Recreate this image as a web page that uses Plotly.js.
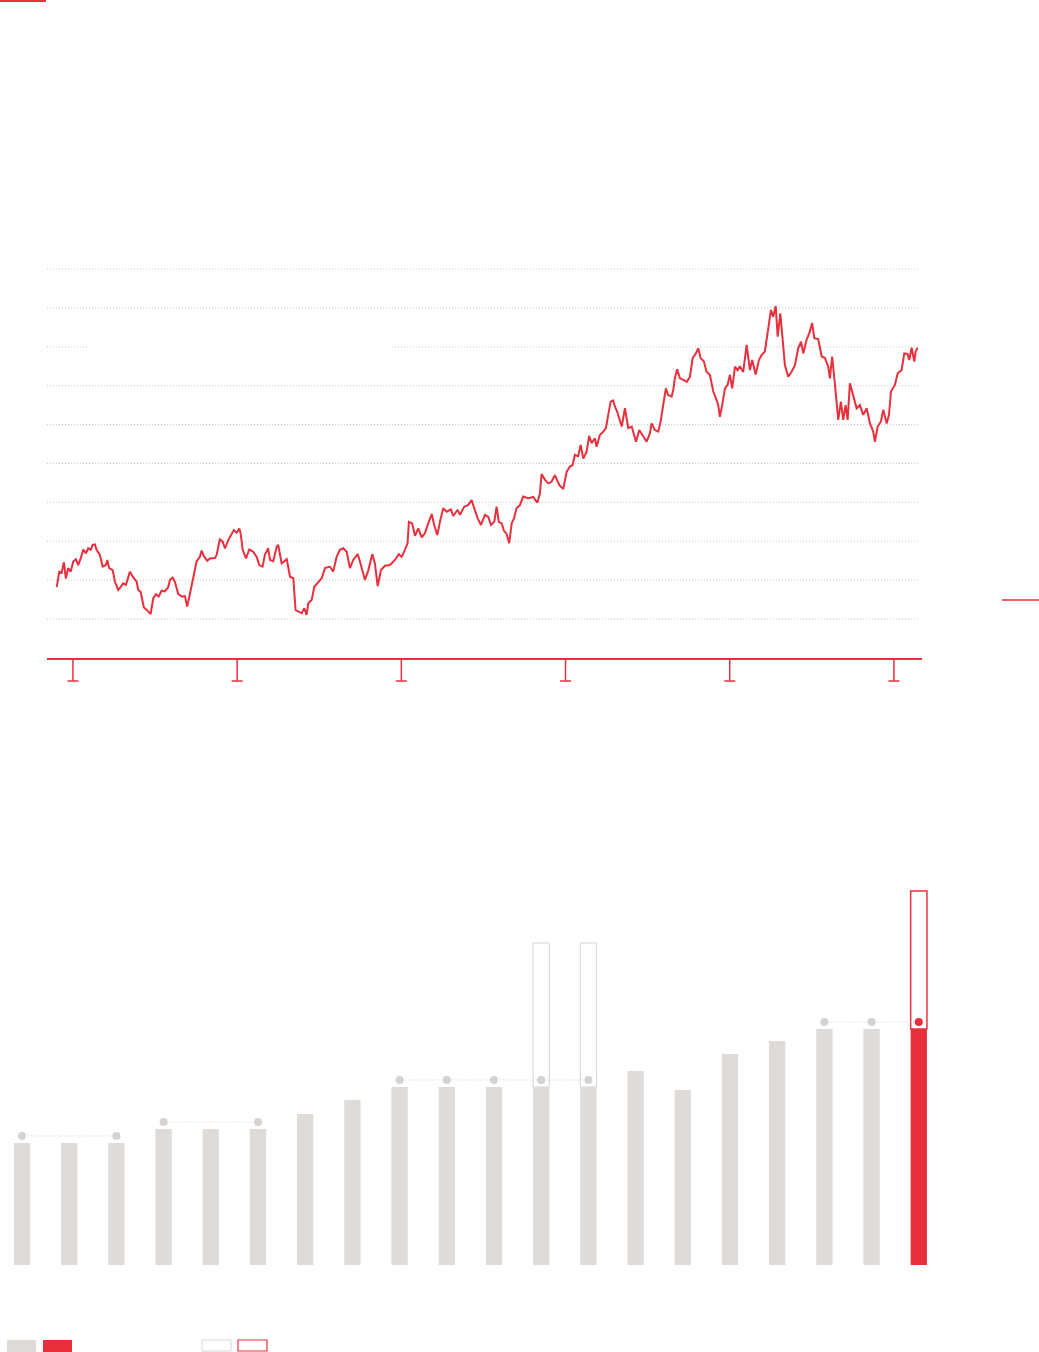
<!DOCTYPE html>
<html><head><meta charset="utf-8">
<script src="https://cdn.plot.ly/plotly-3.0.1.min.js"></script>
<style>html,body{margin:0;padding:0;background:#fff;}#chart{width:1039px;height:1352px;}</style>
</head><body><div id="chart"></div>
<script>
// ---- Price line (decimal years, index value) ----
const priceDates = [2014.901,2014.917,2014.931,2014.945,2014.957,2014.971,2014.986,2015.002,2015.018,2015.032,2015.047,2015.063,2015.079,2015.093,2015.108,2015.120,2015.134,2015.144,2015.164,2015.181,2015.201,2015.209,2015.221,2015.242,2015.256,2015.276,2015.291,2015.306,2015.323,2015.347,2015.364,2015.388,2015.398,2015.412,2015.432,2015.452,2015.473,2015.489,2015.505,2015.522,2015.540,2015.560,2015.580,2015.591,2015.607,2015.621,2015.641,2015.662,2015.682,2015.696,2015.713,2015.733,2015.753,2015.773,2015.784,2015.798,2015.818,2015.834,2015.865,2015.875,2015.895,2015.912,2015.926,2015.946,2015.966,2015.980,2015.997,2016.013,2016.021,2016.034,2016.054,2016.074,2016.098,2016.119,2016.135,2016.155,2016.169,2016.189,2016.200,2016.220,2016.241,2016.250,2016.271,2016.302,2016.322,2016.342,2016.356,2016.372,2016.393,2016.409,2016.423,2016.433,2016.454,2016.470,2016.494,2016.515,2016.535,2016.565,2016.585,2016.606,2016.626,2016.646,2016.667,2016.687,2016.707,2016.734,2016.748,2016.762,2016.778,2016.798,2016.823,2016.839,2016.856,2016.876,2016.900,2016.931,2016.961,2016.985,2017.002,2017.022,2017.038,2017.046,2017.066,2017.083,2017.103,2017.124,2017.144,2017.164,2017.185,2017.200,2017.219,2017.235,2017.255,2017.276,2017.302,2017.316,2017.343,2017.357,2017.383,2017.407,2017.428,2017.444,2017.465,2017.485,2017.509,2017.529,2017.546,2017.566,2017.580,2017.594,2017.611,2017.625,2017.641,2017.657,2017.672,2017.686,2017.702,2017.722,2017.742,2017.773,2017.803,2017.828,2017.844,2017.854,2017.875,2017.895,2017.915,2017.935,2017.962,2017.986,2018.007,2018.027,2018.043,2018.057,2018.077,2018.092,2018.108,2018.128,2018.144,2018.159,2018.179,2018.189,2018.209,2018.230,2018.246,2018.260,2018.275,2018.290,2018.301,2018.315,2018.342,2018.362,2018.382,2018.403,2018.429,2018.449,2018.470,2018.494,2018.514,2018.524,2018.544,2018.565,2018.579,2018.595,2018.611,2018.625,2018.646,2018.656,2018.666,2018.680,2018.697,2018.717,2018.738,2018.758,2018.774,2018.794,2018.808,2018.823,2018.843,2018.859,2018.879,2018.900,2018.910,2018.920,2018.930,2018.940,2018.954,2018.971,2018.987,2019.001,2019.015,2019.032,2019.048,2019.062,2019.082,2019.103,2019.123,2019.137,2019.158,2019.178,2019.194,2019.214,2019.235,2019.251,2019.265,2019.280,2019.292,2019.308,2019.320,2019.336,2019.356,2019.377,2019.397,2019.417,2019.434,2019.448,2019.468,2019.488,2019.502,2019.515,2019.539,2019.560,2019.580,2019.600,2019.610,2019.624,2019.641,2019.661,2019.677,2019.691,2019.706,2019.718,2019.732,2019.752,2019.773,2019.793,2019.813,2019.834,2019.854,2019.874,2019.884,2019.901,2019.921,2019.935,2019.956,2019.970,2019.982,2020.006,2020.023,2020.047,2020.063,2020.083,2020.093,2020.108,2020.124,2020.132,2020.144];
const priceValues = [18.2,22.2,21.9,24.6,20.4,23.1,22.2,24.8,25.4,23.9,25.6,27.9,26.9,28.2,27.8,29.1,29.2,27.8,26.5,23.5,23.9,25.2,23.1,22.6,19.6,17.5,18.3,19.2,18.8,22.2,20.9,19.6,17.5,17.0,13.0,12.3,11.3,15.3,16.4,15.8,17.3,17.1,18.2,20.1,20.7,19.6,16.5,15.8,15.9,13.2,16.6,20.5,24.8,26.0,27.6,26.1,25.0,25.6,25.7,26.5,30.5,29.9,28.2,30.3,32.1,32.9,32.2,33.3,32.1,27.8,25.6,27.9,27.3,26.0,23.9,23.5,26.5,28.2,25.2,24.9,28.6,29.1,24.3,25.4,20.9,20.5,12.3,11.9,11.5,12.8,11.1,14.1,14.9,18.3,19.6,20.5,23.1,23.5,22.2,26.0,27.8,28.2,27.3,23.1,25.2,26.7,24.8,22.6,20.1,22.4,26.7,24.3,18.5,22.6,23.7,23.9,25.2,26.7,26.0,27.8,29.5,35.0,34.6,31.4,33.3,31.0,32.1,34.6,37.0,34.2,31.6,35.0,38.5,37.6,38.2,36.5,38.1,36.8,38.9,39.3,40.6,38.5,35.9,34.2,36.8,36.3,34.2,35.0,38.9,35.0,34.6,32.7,31.9,29.5,34.6,35.9,38.5,39.3,41.5,41.1,41.4,39.9,42.3,47.3,45.8,44.9,45.3,47.0,44.5,43.4,47.9,49.2,49.6,52.2,51.9,54.8,51.3,53.0,57.1,55.2,56.5,54.3,57.3,58.2,59.1,62.5,65.9,66.2,64.6,63.3,59.5,64.2,59.1,59.5,55.6,58.6,57.3,55.6,57.8,60.3,58.6,58.2,60.8,64.6,69.3,67.6,67.2,68.9,71.9,74.2,71.9,71.5,71.0,72.3,77.1,78.3,79.6,77.1,76.2,73.6,72.8,68.5,67.6,66.3,65.0,62.0,65.0,69.3,70.2,72.8,69.3,74.9,74.0,75.0,73.5,80.5,74.0,76.6,72.9,76.6,77.9,78.8,84.8,89.5,87.7,90.5,82.6,88.6,83.0,75.3,72.3,73.6,75.2,79.6,81.3,78.3,81.8,83.9,86.1,82.2,82.0,77.5,77.1,74.9,71.9,77.5,70.2,61.2,65.9,61.2,65.0,61.2,70.6,67.6,64.2,65.0,62.5,64.2,60.3,58.2,55.6,59.5,60.8,63.8,60.3,62.5,68.5,70.2,73.2,74.0,78.3,78.2,76.6,79.8,76.2,78.7,79.8];
const yearTicks = [2015,2016,2017,2018,2019,2020];
const gridValues = [10,20,30,40,50,60,70,80,90,100];
// ---- Bar chart ----
const barCategories = [1,2,3,4,5,6,7,8,9,10,11,12,13,14,15,16,17,18,19,20];
const barValues = [12.2,12.2,12.2,13.6,13.6,13.6,15.1,16.5,17.8,17.8,17.8,17.8,17.8,19.4,17.5,21.1,22.4,23.6,23.6,23.6];
const dotValues = [12.9,null,12.9,14.3,null,14.3,null,null,18.5,18.5,18.5,18.5,18.5,null,null,null,null,24.3,24.3,24.3];
const outlineTopValues = [null,null,null,null,null,null,null,null,null,null,null,32.2,32.2,null,null,null,null,null,null,37.4];
const highlightIndex = 19;

const RED = '#e8303d';
const GRAY = '#dedbd9';
const W = 1039, H = 1352;
const py = p => 1 - p / H;
const px = p => p / W;

// x axis (years) mapping: px 47 -> 2014.842, px 922 -> 2020.171
const xMin = 2014.842, xMax = 2020.171;
const yrPerPx = (xMax - xMin) / (922 - 47);
const gridEnd = xMin + (920 - 47) * yrPerPx;
const gapStart = xMin + (88 - 47) * yrPerPx, gapEnd = xMin + (392 - 47) * yrPerPx;

const shapes = [];
gridValues.forEach(v => {
  const segs = v === 80 ? [[xMin, gapStart], [gapEnd, gridEnd]] : [[xMin, gridEnd]];
  segs.forEach(s => shapes.push({type:'line', xref:'x', yref:'y', x0:s[0], x1:s[1], y0:v, y1:v,
    line:{color:'#c9c9c9', width:1, dash:'1px,2px'}, layer:'below'}));
});
const capHalf = 5.5 * yrPerPx;
yearTicks.forEach(t => {
  shapes.push({type:'line', xref:'x', yref:'paper', x0:t, x1:t, y0:py(658), y1:py(681), line:{color:RED, width:1.5}});
  shapes.push({type:'line', xref:'x', yref:'paper', x0:t-capHalf, x1:t+capHalf, y0:py(681), y1:py(681), line:{color:RED, width:1.5}});
});
// decorative accents
shapes.push({type:'rect', xref:'paper', yref:'paper', x0:0, x1:px(46), y0:py(2), y1:1, fillcolor:RED, line:{width:0}});
shapes.push({type:'line', xref:'paper', yref:'paper', x0:px(1002), x1:1, y0:py(600), y1:py(600), line:{color:RED, width:1.5}});
// legend swatches
shapes.push({type:'rect', xref:'paper', yref:'paper', x0:px(7), x1:px(36), y0:0, y1:py(1340), fillcolor:GRAY, line:{width:0}});
shapes.push({type:'rect', xref:'paper', yref:'paper', x0:px(43), x1:px(72), y0:0, y1:py(1340), fillcolor:RED, line:{width:0}});
shapes.push({type:'rect', xref:'paper', yref:'paper', x0:px(202), x1:px(231), y0:py(1351), y1:py(1340), fillcolor:'#fff', line:{color:'#d8d8d8', width:1}});
shapes.push({type:'rect', xref:'paper', yref:'paper', x0:px(238), x1:px(267), y0:py(1351), y1:py(1340), fillcolor:'#fff', line:{color:RED, width:1.2}});

// connector segments between consecutive equal dots
const connX = [], connY = [];
let prev = null;
dotValues.forEach((v, i) => {
  if (v === null) return;
  if (prev !== null && dotValues[prev] === v) {
    connX.push(barCategories[prev], barCategories[i], null);
    connY.push(v, v, null);
  }
  prev = i;
});

const barColors = barValues.map((v, i) => i === highlightIndex ? RED : GRAY);
const outlineColors = barValues.map((v, i) => i === highlightIndex ? RED : '#d4d4d4');
const outlineWidths = barValues.map((v, i) => i === highlightIndex ? 1.5 : 1);
const dotColors = dotValues.map((v, i) => i === highlightIndex ? RED : '#d5d3d1');

const traces = [
  {type:'scatter', mode:'lines', x:priceDates, y:priceValues, xaxis:'x', yaxis:'y',
   line:{color:RED, width:2}, hoverinfo:'skip'},
  {type:'bar', x:barCategories, base:barValues,
   y:outlineTopValues.map((t, i) => t === null ? null : t - barValues[i]),
   xaxis:'x2', yaxis:'y2', width:0.345,
   marker:{color:'#ffffff', line:{color:outlineColors, width:outlineWidths}}, hoverinfo:'skip'},
  {type:'bar', x:barCategories, y:barValues, xaxis:'x2', yaxis:'y2', width:0.345,
   marker:{color:barColors, line:{width:0}}, hoverinfo:'skip'},
  {type:'scatter', mode:'lines', x:connX, y:connY, xaxis:'x2', yaxis:'y2',
   line:{color:'#cfcfcf', width:1, dash:'1px,2px'}, connectgaps:false, hoverinfo:'skip'},
  {type:'scatter', mode:'markers', x:barCategories, y:dotValues, xaxis:'x2', yaxis:'y2',
   marker:{color:dotColors, size:8}, hoverinfo:'skip'}
];

const layout = {
  width:W, height:H, margin:{l:0, r:0, t:0, b:0},
  paper_bgcolor:'#ffffff', plot_bgcolor:'rgba(0,0,0,0)', showlegend:false,
  barmode:'overlay',
  xaxis:{domain:[px(47), px(922)], range:[xMin, xMax], showgrid:false, zeroline:false,
         showline:true, linecolor:RED, linewidth:2, ticks:'', showticklabels:false, fixedrange:true},
  yaxis:{domain:[py(658), py(260)], range:[0, (658-260)/3.89], showgrid:false, zeroline:false,
         showline:false, showticklabels:false, fixedrange:true},
  xaxis2:{domain:[0, 1], range:[barCategories[0] - 22/47.2, barCategories[0] + (1039-22)/47.2],
          showgrid:false, zeroline:false, showline:false, showticklabels:false, anchor:'y2', fixedrange:true},
  yaxis2:{domain:[py(1265), py(880)], range:[0, 38.5], showgrid:false, zeroline:false,
          showline:false, showticklabels:false, anchor:'x2', fixedrange:true},
  shapes:shapes
};

Plotly.newPlot('chart', traces, layout, {staticPlot:true, displayModeBar:false});
</script>
</body></html>
